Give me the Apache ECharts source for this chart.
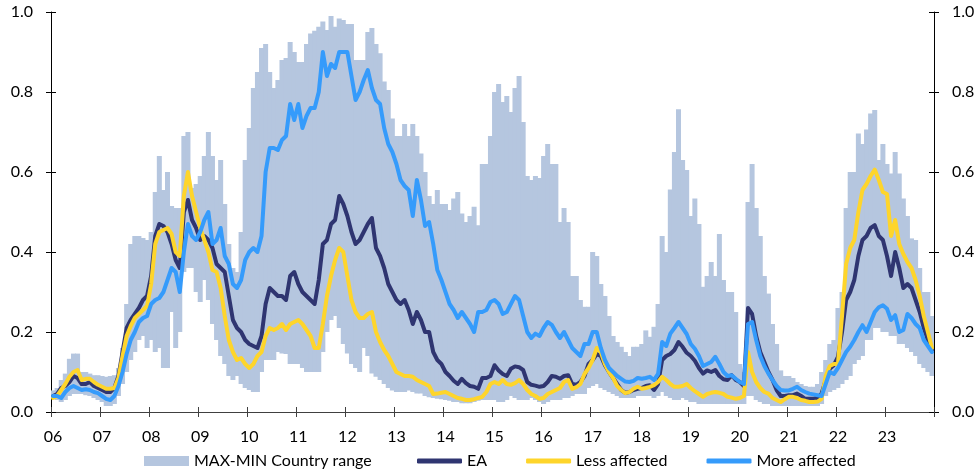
<!DOCTYPE html>
<html>
<head>
<meta charset="utf-8">
<script src="https://cdn.jsdelivr.net/npm/echarts@6/dist/echarts.min.js"></script>
<style>
  html, body { margin: 0; padding: 0; background: #fff; }
  #chart { width: 980px; height: 472px; }
</style>
</head>
<body>
<div id="chart"></div>
<script>
// years on the axis, one row of 12 monthly values per year below
const years = ['06', '07', '08', '09', '10', '11', '12', '13', '14', '15', '16', '17', '18', '19', '20', '21', '22', '23']

// lower edge of the country range
const rangeMin = [
  0.035, 0.03, 0.025, 0.03, 0.04, 0.045, 0.045, 0.045, 0.042, 0.04, 0.035, 0.03,
  0.025, 0.015, 0.015, 0.02, 0.04, 0.07, 0.10, 0.13, 0.15, 0.18, 0.19, 0.16,
  0.18, 0.15, 0.16, 0.11, 0.11, 0.25, 0.16, 0.20, 0.35, 0.36, 0.36, 0.30,
  0.275, 0.33, 0.28, 0.22, 0.18, 0.14, 0.12, 0.09, 0.08, 0.09, 0.07, 0.06,
  0.055, 0.05, 0.05, 0.10, 0.13, 0.13, 0.13, 0.15, 0.146, 0.145, 0.12, 0.12,
  0.12, 0.11, 0.10, 0.10, 0.10, 0.10, 0.15, 0.20, 0.23, 0.24, 0.21, 0.17,
  0.146, 0.12, 0.11, 0.10, 0.16, 0.14, 0.096, 0.088, 0.08, 0.07, 0.06, 0.054,
  0.05, 0.05, 0.05, 0.054, 0.05, 0.046, 0.046, 0.04, 0.037, 0.035, 0.033, 0.032,
  0.03, 0.028, 0.025, 0.025, 0.022, 0.022, 0.022, 0.025, 0.028, 0.03, 0.03, 0.03,
  0.03, 0.025, 0.025, 0.03, 0.04, 0.035, 0.03, 0.03, 0.03, 0.035, 0.03, 0.025,
  0.02, 0.025, 0.03, 0.03, 0.03, 0.035, 0.035, 0.04, 0.045, 0.045, 0.045, 0.06,
  0.065, 0.07, 0.06, 0.055, 0.05, 0.045, 0.04, 0.035, 0.035, 0.035, 0.035, 0.04,
  0.04, 0.04, 0.04, 0.035, 0.04, 0.05, 0.04, 0.035, 0.03, 0.03, 0.035, 0.03,
  0.025, 0.025, 0.02, 0.02, 0.02, 0.02, 0.02, 0.02, 0.02, 0.02, 0.02, 0.02,
  0.02, 0.02, 0.04, 0.04, 0.03, 0.025, 0.02, 0.02, 0.015, 0.015, 0.015, 0.015,
  0.015, 0.015, 0.015, 0.015, 0.015, 0.015, 0.015, 0.015, 0.02, 0.04, 0.05, 0.055,
  0.06, 0.07, 0.08, 0.09, 0.12, 0.13, 0.14, 0.18, 0.18, 0.21, 0.21, 0.20,
  0.20, 0.19, 0.19, 0.17, 0.17, 0.16, 0.15, 0.14, 0.12, 0.11, 0.10, 0.09
]

// upper edge of the country range
const rangeMax = [
  0.054, 0.06, 0.08, 0.096, 0.133, 0.146, 0.146, 0.10, 0.10, 0.096, 0.092, 0.092,
  0.09, 0.088, 0.09, 0.092, 0.11, 0.16, 0.27, 0.42, 0.44, 0.44, 0.435, 0.43,
  0.45, 0.55, 0.64, 0.555, 0.60, 0.515, 0.51, 0.51, 0.69, 0.70, 0.56, 0.57,
  0.59, 0.64, 0.70, 0.64, 0.58, 0.63, 0.52, 0.42, 0.36, 0.35, 0.45, 0.63,
  0.71, 0.81, 0.85, 0.91, 0.92, 0.85, 0.81, 0.83, 0.88, 0.885, 0.925, 0.90,
  0.875, 0.875, 0.92, 0.946, 0.953, 0.963, 0.976, 0.955, 0.99, 0.963, 0.984, 0.98,
  0.97, 0.97, 0.88, 0.88, 0.88, 0.95, 0.96, 0.92, 0.897, 0.826, 0.805, 0.734,
  0.69, 0.69, 0.72, 0.69, 0.72, 0.69, 0.646, 0.60, 0.54, 0.52, 0.555, 0.52,
  0.52, 0.505, 0.534, 0.55, 0.496, 0.475, 0.49, 0.513, 0.467, 0.62, 0.62, 0.69,
  0.80, 0.82, 0.775, 0.79, 0.75, 0.81, 0.84, 0.725, 0.59, 0.58, 0.59, 0.585,
  0.64, 0.67, 0.62, 0.62, 0.475, 0.51, 0.475, 0.34, 0.34, 0.28, 0.263, 0.263,
  0.40, 0.39, 0.32, 0.29, 0.24, 0.19, 0.175, 0.163, 0.15, 0.14, 0.163, 0.163,
  0.17, 0.204, 0.188, 0.213, 0.27, 0.44, 0.40, 0.556, 0.65, 0.757, 0.63, 0.605,
  0.49, 0.534, 0.47, 0.313, 0.34, 0.375, 0.34, 0.445, 0.33, 0.30, 0.30, 0.25,
  0.12, 0.10, 0.525, 0.62, 0.51, 0.44, 0.34, 0.296, 0.22, 0.17, 0.104, 0.09,
  0.09, 0.085, 0.075, 0.07, 0.065, 0.063, 0.063, 0.07, 0.10, 0.13, 0.17, 0.18,
  0.26, 0.30, 0.51, 0.60, 0.60, 0.696, 0.67, 0.706, 0.746, 0.755, 0.63, 0.67,
  0.62, 0.596, 0.65, 0.596, 0.534, 0.49, 0.434, 0.43, 0.36, 0.30, 0.30, 0.24
]

const eaValues = [
  0.04, 0.045, 0.06, 0.065, 0.075, 0.09, 0.085, 0.07, 0.07, 0.075, 0.065, 0.06,
  0.055, 0.05, 0.05, 0.06, 0.09, 0.15, 0.21, 0.23, 0.245, 0.26, 0.28, 0.29,
  0.34, 0.44, 0.47, 0.465, 0.45, 0.42, 0.38, 0.36, 0.50, 0.53, 0.48, 0.46,
  0.43, 0.44, 0.43, 0.41, 0.37, 0.36, 0.35, 0.29, 0.23, 0.21, 0.20, 0.18,
  0.17, 0.165, 0.16, 0.19, 0.27, 0.31, 0.30, 0.29, 0.29, 0.28, 0.34, 0.35,
  0.32, 0.30, 0.29, 0.28, 0.27, 0.33, 0.42, 0.43, 0.47, 0.48, 0.54, 0.52,
  0.49, 0.45, 0.42, 0.43, 0.45, 0.47, 0.485, 0.41, 0.39, 0.36, 0.32, 0.30,
  0.28, 0.27, 0.28, 0.255, 0.22, 0.25, 0.23, 0.20, 0.20, 0.15, 0.13, 0.12,
  0.10, 0.09, 0.078, 0.07, 0.083, 0.072, 0.065, 0.063, 0.058, 0.085, 0.085, 0.09,
  0.117, 0.104, 0.095, 0.09, 0.108, 0.114, 0.112, 0.105, 0.075, 0.068, 0.066, 0.063,
  0.065, 0.075, 0.09, 0.088, 0.083, 0.09, 0.092, 0.07, 0.068, 0.075, 0.09, 0.12,
  0.13, 0.145, 0.14, 0.117, 0.10, 0.085, 0.07, 0.055, 0.048, 0.05, 0.055, 0.058,
  0.06, 0.065, 0.067, 0.055, 0.07, 0.13, 0.14, 0.145, 0.155, 0.175, 0.163, 0.148,
  0.14, 0.128, 0.11, 0.096, 0.104, 0.10, 0.105, 0.09, 0.082, 0.08, 0.092, 0.08,
  0.075, 0.065, 0.26, 0.245, 0.19, 0.15, 0.125, 0.10, 0.08, 0.055, 0.04, 0.04,
  0.042, 0.042, 0.046, 0.04, 0.033, 0.033, 0.033, 0.035, 0.046, 0.08, 0.108, 0.117,
  0.138, 0.20, 0.28, 0.30, 0.33, 0.39, 0.43, 0.44, 0.46, 0.467, 0.44, 0.43,
  0.39, 0.34, 0.40, 0.36, 0.31, 0.32, 0.31, 0.28, 0.25, 0.21, 0.18, 0.155
]

const lessValues = [
  0.035, 0.04, 0.055, 0.07, 0.088, 0.10, 0.105, 0.08, 0.083, 0.083, 0.075, 0.068,
  0.063, 0.058, 0.058, 0.06, 0.085, 0.14, 0.19, 0.215, 0.235, 0.245, 0.255, 0.265,
  0.32, 0.42, 0.45, 0.455, 0.46, 0.445, 0.40, 0.39, 0.54, 0.60, 0.54, 0.50,
  0.46, 0.43, 0.40, 0.355, 0.35, 0.31, 0.24, 0.18, 0.15, 0.13, 0.135, 0.12,
  0.11, 0.12, 0.14, 0.15, 0.19, 0.21, 0.205, 0.21, 0.22, 0.205, 0.22, 0.225,
  0.23, 0.22, 0.205, 0.19, 0.16, 0.16, 0.22, 0.29, 0.34, 0.38, 0.41, 0.40,
  0.34, 0.28, 0.25, 0.235, 0.235, 0.245, 0.25, 0.20, 0.175, 0.155, 0.14, 0.12,
  0.10, 0.095, 0.09, 0.09, 0.088, 0.08, 0.075, 0.07, 0.065, 0.045, 0.046, 0.048,
  0.05, 0.045, 0.04, 0.035, 0.033, 0.03, 0.03, 0.032, 0.035, 0.038, 0.05, 0.07,
  0.075, 0.07, 0.08, 0.07, 0.068, 0.072, 0.08, 0.07, 0.055, 0.045, 0.04, 0.033,
  0.035, 0.045, 0.05, 0.055, 0.06, 0.075, 0.08, 0.058, 0.062, 0.07, 0.095, 0.11,
  0.13, 0.16, 0.15, 0.12, 0.10, 0.085, 0.065, 0.055, 0.047, 0.05, 0.058, 0.063,
  0.058, 0.06, 0.063, 0.067, 0.075, 0.088, 0.08, 0.07, 0.063, 0.063, 0.065, 0.07,
  0.06, 0.052, 0.045, 0.038, 0.045, 0.048, 0.05, 0.048, 0.045, 0.038, 0.036, 0.033,
  0.035, 0.04, 0.15, 0.10, 0.075, 0.06, 0.05, 0.046, 0.035, 0.03, 0.025, 0.032,
  0.038, 0.038, 0.035, 0.03, 0.028, 0.025, 0.025, 0.026, 0.033, 0.09, 0.115, 0.12,
  0.12, 0.24, 0.37, 0.41, 0.43, 0.50, 0.555, 0.57, 0.59, 0.606, 0.58, 0.55,
  0.545, 0.44, 0.48, 0.42, 0.395, 0.375, 0.36, 0.33, 0.29, 0.24, 0.20, 0.16
]

const moreValues = [
  0.04, 0.04, 0.035, 0.05, 0.06, 0.065, 0.06, 0.055, 0.057, 0.055, 0.05, 0.047,
  0.04, 0.033, 0.03, 0.04, 0.065, 0.10, 0.145, 0.18, 0.20, 0.225, 0.235, 0.24,
  0.27, 0.28, 0.285, 0.30, 0.33, 0.36, 0.35, 0.30, 0.40, 0.47, 0.44, 0.43,
  0.45, 0.48, 0.50, 0.42, 0.43, 0.46, 0.39, 0.37, 0.32, 0.31, 0.33, 0.38,
  0.40, 0.41, 0.40, 0.44, 0.60, 0.66, 0.66, 0.655, 0.68, 0.69, 0.77, 0.73,
  0.77, 0.71, 0.74, 0.76, 0.76, 0.80, 0.90, 0.84, 0.87, 0.86, 0.90, 0.90,
  0.90, 0.84, 0.78, 0.80, 0.83, 0.855, 0.81, 0.78, 0.77, 0.71, 0.67, 0.65,
  0.62, 0.58, 0.565, 0.555, 0.49, 0.58, 0.53, 0.465, 0.475, 0.42, 0.355, 0.33,
  0.30, 0.27, 0.255, 0.235, 0.25, 0.235, 0.22, 0.20, 0.25, 0.25, 0.255, 0.275,
  0.28, 0.27, 0.245, 0.25, 0.27, 0.29, 0.28, 0.24, 0.20, 0.185, 0.196, 0.19,
  0.21, 0.225, 0.218, 0.20, 0.185, 0.20, 0.18, 0.16, 0.15, 0.14, 0.17, 0.17,
  0.20, 0.20, 0.16, 0.13, 0.11, 0.10, 0.09, 0.083, 0.076, 0.075, 0.078, 0.085,
  0.083, 0.085, 0.088, 0.08, 0.095, 0.175, 0.165, 0.196, 0.21, 0.225, 0.21, 0.195,
  0.17, 0.158, 0.14, 0.115, 0.12, 0.125, 0.138, 0.12, 0.10, 0.09, 0.092, 0.083,
  0.075, 0.07, 0.22, 0.225, 0.18, 0.14, 0.115, 0.096, 0.08, 0.065, 0.055, 0.054,
  0.054, 0.058, 0.063, 0.055, 0.05, 0.046, 0.044, 0.042, 0.04, 0.07, 0.10, 0.095,
  0.11, 0.13, 0.15, 0.163, 0.18, 0.20, 0.217, 0.20, 0.225, 0.25, 0.262, 0.267,
  0.258, 0.23, 0.242, 0.20, 0.205, 0.245, 0.235, 0.22, 0.21, 0.18, 0.165, 0.15
]

const FONT = 'Lato'
const chart = echarts.init(document.getElementById('chart'))

// one category per month, label only on January
const months = []
years.forEach(y => {
  for (let m = 1; m <= 12; m++) months.push(y + '-' + m)
})
const rangeSize = rangeMax.map((v, i) => +(v - rangeMin[i]).toFixed(4))

const yLabel = {
  fontFamily: FONT, fontSize: 16, color: '#000',
  formatter: v => v.toFixed(1)
}
function valueAxis (pos, inside) {
  return {
    type: 'value', position: pos, min: 0, max: 1, interval: 0.2,
    splitLine: { show: false },
    axisLine: { show: !inside, lineStyle: { color: '#000', width: 1 } },
    axisTick: { show: true, inside: inside, length: 5, lineStyle: { color: '#000' } },
    axisLabel: inside ? { show: false } : Object.assign({ margin: 18 }, yLabel)
  }
}
function catAxis (inside) {
  return {
    type: 'category', data: months, position: 'bottom',
    axisLine: { show: !inside, lineStyle: { color: '#404040', width: 1 } },
    axisTick: { show: true, inside: inside, interval: 11, length: 5, lineStyle: { color: '#404040' } },
    axisLabel: inside ? { show: false } : {
      interval: 11, margin: 17, fontFamily: FONT, fontSize: 16, color: '#000',
      formatter: v => v.split('-')[0]
    }
  }
}
const legendText = { fontFamily: FONT, fontSize: 16, color: '#000' }

const option = {
  animation: false,
  grid: { left: 51, right: 46, top: 12, bottom: 60 },
  legend: [
    {
      data: ['MAX-MIN Country range'], icon: 'rect',
      left: 139, top: 448, itemWidth: 45, itemHeight: 10,
      textStyle: legendText
    },
    {
      data: ['EA', 'Less affected', 'More affected'], icon: 'roundRect',
      left: 412, top: 448, itemWidth: 45, itemHeight: 5, itemGap: 39,
      textStyle: legendText
    }
  ],
  xAxis: [catAxis(false), catAxis(true)],
  yAxis: [valueAxis('left', false), valueAxis('left', true), valueAxis('right', false), valueAxis('right', true)],
  series: [
    {
      name: 'base', type: 'bar', stack: 'range', data: rangeMin,
      barWidth: 5, itemStyle: { color: 'rgba(0,0,0,0)' }, silent: true
    },
    {
      name: 'MAX-MIN Country range', type: 'bar', stack: 'range', data: rangeSize,
      barWidth: 5, itemStyle: { color: '#b5c6df' }
    },
    {
      name: 'EA', type: 'line', data: eaValues, showSymbol: false, symbol: 'none',
      lineStyle: { color: '#2f3571', width: 4, join: 'round', cap: 'round' },
      itemStyle: { color: '#2f3571' }
    },
    {
      name: 'Less affected', type: 'line', data: lessValues, showSymbol: false, symbol: 'none',
      lineStyle: { color: '#fed52b', width: 4, join: 'round', cap: 'round' },
      itemStyle: { color: '#fed52b' }
    },
    {
      name: 'More affected', type: 'line', data: moreValues, showSymbol: false, symbol: 'none',
      lineStyle: { color: '#359bfb', width: 4, join: 'round', cap: 'round' },
      itemStyle: { color: '#359bfb' }
    }
  ]
}
chart.setOption(option)
</script>
</body>
</html>
